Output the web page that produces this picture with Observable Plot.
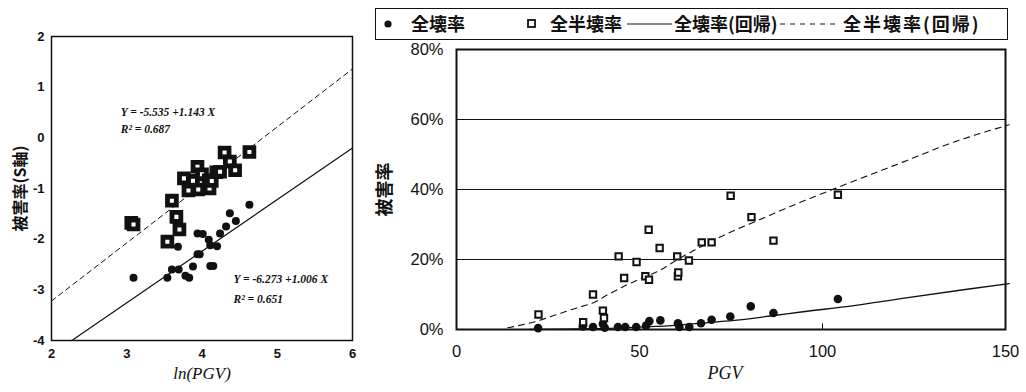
<!DOCTYPE html>
<html>
<head>
<meta charset="utf-8">
<script src="https://cdn.jsdelivr.net/npm/d3@7"></script>
<script src="https://cdn.jsdelivr.net/npm/@observablehq/plot@0.6"></script>
<style>
  html, body { margin: 0; padding: 0; background: #fff; }
  #wrap { position: relative; width: 1026px; height: 392px; overflow: hidden; background: #fff; }
  #left { position: absolute; left: 0; top: 0; }
  #right { position: absolute; left: 370px; top: 0; }
  #legend { position: absolute; left: 375px; top: 8px; width: 633px; height: 32px;
    border: 1.5px solid #111; box-sizing: border-box;
    font-family: "Noto Sans CJK JP", sans-serif; font-weight: bold; font-size: 18px; color: #111; }
  #legend .it { position: absolute; top: 0; height: 29px; line-height: 29px; white-space: nowrap; }
  #legend svg { position: absolute; top: 0; }
</style>
</head>
<body>
<div id="wrap">
  <div id="left"></div>
  <div id="right"></div>
  <div id="legend"></div>
</div>
<script>
// ---------- Left panel: ln(PGV) vs 被害率 (S軸) ----------
const leftXTicks = [2, 3, 4, 5, 6];
const leftYTicks = [-4, -3, -2, -1, 0, 1, 2];
// 全半壊率 points (squares)
const leftHalfX = [3.06, 3.09, 3.54, 3.60, 3.66, 3.70, 3.76, 3.82, 3.88, 3.94, 3.95, 4.00, 4.09, 4.10, 4.13, 4.19, 4.24, 4.30, 4.37, 4.44, 4.63];
const leftHalfY = [-1.68, -1.71, -2.05, -1.24, -1.56, -1.81, -0.80, -1.04, -0.85, -0.57, -1.02, -0.72, -0.84, -1.00, -0.85, -0.68, -0.67, -0.29, -0.47, -0.64, -0.28];
// 全壊率 points (dots)
const leftFullX = [3.09, 3.54, 3.60, 3.69, 3.68, 3.78, 3.83, 3.88, 3.94, 3.97, 3.94, 4.01, 4.09, 4.11, 4.11, 4.15, 4.20, 4.24, 4.32, 4.37, 4.45, 4.63];
const leftFullY = [-2.76, -2.76, -2.60, -2.60, -2.15, -2.72, -2.76, -2.54, -2.30, -2.30, -1.89, -1.90, -2.01, -2.12, -2.53, -2.53, -2.14, -1.89, -1.75, -1.49, -1.64, -1.32];
// regression lines (end points)
const leftHalfRegX = [2, 6];
const leftHalfRegY = [-3.22, 1.36];
const leftFullRegX = [2.27, 6];
const leftFullRegY = [-4.0, -0.2];
const leftEqTexts = ["Y = -5.535 +1.143 X", "R² = 0.687", "Y = -6.273 +1.006 X", "R² = 0.651"];
const leftEqX = [2.92, 2.92, 4.42, 4.42];
const leftEqY = [0.51, 0.16, -2.79, -3.19];

// ---------- Right panel: PGV vs 被害率 ----------
const rightXTicks = [0, 50, 100, 150];
const rightYTicks = [0, 20, 40, 60, 80];
const rightGrid = [20, 40, 60];
const rightInnerTick = [100];
const halfPGV = [22.4, 34.6, 37.3, 40.0, 40.3, 44.3, 45.8, 49.2, 51.6, 52.6, 52.5, 55.5, 60.3, 60.5, 60.6, 63.5, 67.0, 69.7, 74.9, 80.6, 86.6, 104.2];
const halfRate = [4.3, 2.1, 10.0, 5.4, 3.3, 20.9, 14.7, 19.3, 15.2, 14.2, 28.5, 23.3, 20.9, 15.2, 16.3, 19.7, 24.9, 24.9, 38.2, 32.1, 25.4, 38.5];
const fullPGV = [22.3, 34.5, 37.3, 40.0, 40.5, 44.1, 46.1, 49.1, 51.8, 52.7, 55.7, 60.5, 60.9, 63.6, 66.8, 69.7, 74.8, 80.4, 86.6, 104.2];
const fullRate = [0.4, 0.9, 0.7, 1.6, 0.5, 0.7, 0.7, 0.7, 1.1, 2.4, 2.6, 1.8, 0.7, 0.7, 1.8, 2.8, 3.7, 6.6, 4.7, 8.7];
const halfRegPGV = [14, 22, 28, 33, 37.7, 41.4, 45.9, 50, 55, 61.4, 68.6, 75.9, 80.4, 94.1, 104.2, 121.4, 135, 151];
const halfRegRate = [0.5, 2.4, 4.5, 6.2, 7.8, 10.0, 12.4, 14.4, 16.6, 20.6, 24.6, 28.3, 30.3, 36.4, 40.6, 47.6, 53.2, 58.5];
const fullRegPGV = [20, 30, 40, 50, 60, 66.8, 75.9, 86.8, 94.1, 108.6, 121.4, 139.5, 151];
const fullRegRate = [0, 0.1, 0.3, 0.7, 1.2, 1.8, 2.6, 4.0, 5.0, 6.8, 8.8, 11.5, 13.1];

const legendLabels = ["全壊率", "全半壊率", "全壊率(回帰)", "全半壊率(回帰)"];

const zip = (xs, ys) => xs.map((x, i) => ({x, y: ys[i]}));
const ink = "#111";

// ---------- Left chart ----------
const left = Plot.plot({
  width: 370, height: 392,
  marginLeft: 51, marginRight: 18, marginTop: 36, marginBottom: 52,
  x: {domain: [2, 6]},
  y: {domain: [-4, 2]},
  style: {fontFamily: "Liberation Sans, Arial, sans-serif", fontSize: "13px", color: ink, background: "#fff"},
  marks: [
    Plot.line(zip(leftHalfRegX, leftHalfRegY), {x: "x", y: "y", stroke: ink, strokeWidth: 1, strokeDasharray: "5,4"}),
    Plot.line(zip(leftFullRegX, leftFullRegY), {x: "x", y: "y", stroke: ink, strokeWidth: 1.2}),
    Plot.dot(zip(leftFullX, leftFullY), {x: "x", y: "y", r: 4, fill: ink, stroke: "none"}),
    Plot.dot(zip(leftHalfX, leftHalfY), {x: "x", y: "y", symbol: "square", r: 5, fill: "#fff", stroke: ink, strokeWidth: 4.8}),
    Plot.text(leftEqTexts.map((t, i) => ({t, x: leftEqX[i], y: leftEqY[i]})), {
      x: "x", y: "y", text: "t", textAnchor: "start",
      fontFamily: "Liberation Serif, Times New Roman, serif", fontStyle: "italic", fontWeight: "bold", fontSize: 11.5, fill: ink}),
    Plot.frame({stroke: ink, strokeWidth: 1.5}),
    Plot.axisX({ticks: leftXTicks, tickSize: 0, tickPadding: 8, tickFormat: d => String(d), fontWeight: "bold", label: null}),
    Plot.axisY({ticks: leftYTicks, tickSize: 0, tickPadding: 7, tickFormat: d => String(d), fontWeight: "bold", label: null}),
    Plot.text(["ln(PGV)"], {text: d => d, frameAnchor: "bottom", dy: 38, fontFamily: "Liberation Serif, Times New Roman, serif", fontStyle: "italic", fontSize: 17, fill: ink}),
    Plot.text(["被害率(S軸)"], {text: d => d, frameAnchor: "left", dx: -31, rotate: -90, textAnchor: "middle", lineAnchor: "middle", fontFamily: "Noto Sans CJK JP, sans-serif", fontWeight: "bold", fontSize: 16, fill: ink})
  ]
});
document.getElementById("left").appendChild(left);

// ---------- Right chart ----------
const right = Plot.plot({
  width: 656, height: 392,
  marginLeft: 86, marginRight: 21, marginTop: 49, marginBottom: 63,
  x: {domain: [0, 150]},
  y: {domain: [0, 80]},
  style: {fontFamily: "Liberation Sans, Arial, sans-serif", fontSize: "16.5px", color: ink, background: "#fff"},
  marks: [
    Plot.ruleY(rightGrid, {stroke: ink, strokeWidth: 1.2}),
    Plot.ruleX(rightInnerTick, {y1: 0, y2: 1.6, stroke: ink, strokeWidth: 1}),
    Plot.line(zip(halfRegPGV, halfRegRate), {x: "x", y: "y", curve: "monotone-x", stroke: ink, strokeWidth: 1.1, strokeDasharray: "6,5"}),
    Plot.line(zip(fullRegPGV, fullRegRate), {x: "x", y: "y", curve: "monotone-x", stroke: ink, strokeWidth: 1.3}),
    Plot.dot(zip(fullPGV, fullRate), {x: "x", y: "y", r: 4.3, fill: ink, stroke: "none"}),
    Plot.dot(zip(halfPGV, halfRate), {x: "x", y: "y", symbol: "square", r: 3.6, fill: "#fff", stroke: ink, strokeWidth: 2}),
    Plot.frame({stroke: ink, strokeWidth: 2}),
    Plot.axisX({ticks: rightXTicks, tickSize: 0, tickPadding: 16, tickFormat: d => String(d), label: null}),
    Plot.axisY({ticks: rightYTicks, tickSize: 0, tickPadding: 13, tickFormat: d => d + "%", label: null}),
    Plot.text(["PGV"], {text: d => d, frameAnchor: "bottom", dy: 49, dx: -6, fontFamily: "Liberation Serif, Times New Roman, serif", fontStyle: "italic", fontSize: 18, fill: ink}),
    Plot.text(["被害率"], {text: d => d, frameAnchor: "left", dx: -71, rotate: -90, textAnchor: "middle", lineAnchor: "middle", fontFamily: "Noto Sans CJK JP, sans-serif", fontWeight: "bold", fontSize: 18, fill: ink})
  ]
});
document.getElementById("right").appendChild(right);

// ---------- Legend (HTML, above the right chart) ----------
const lg = document.getElementById("legend");
const svgNS = "http://www.w3.org/2000/svg";
function sym(left, w, draw) {
  const s = document.createElementNS(svgNS, "svg");
  s.setAttribute("width", w); s.setAttribute("height", 29);
  s.style.left = left + "px";
  s.innerHTML = draw;
  lg.appendChild(s);
}
function label(left, t, spacing) {
  const d = document.createElement("div");
  d.className = "it"; d.style.left = left + "px"; d.textContent = t;
  if (spacing) d.style.letterSpacing = spacing + "px";
  lg.appendChild(d);
}
sym(6, 12, `<circle cx="6" cy="15" r="3.6" fill="${ink}"/>`);
label(35, legendLabels[0]);
sym(150, 12, `<rect x="2" y="11" width="7" height="7" fill="#fff" stroke="${ink}" stroke-width="1.8"/>`);
label(174, legendLabels[1]);
sym(251, 45, `<line x1="0" y1="15" x2="45" y2="15" stroke="${ink}" stroke-width="1.2"/>`);
label(298, legendLabels[2]);
sym(404, 60, `<line x1="0" y1="15" x2="60" y2="15" stroke="${ink}" stroke-width="1.2" stroke-dasharray="5,5"/>`);
label(467, legendLabels[3], 2);
</script>
</body>
</html>
